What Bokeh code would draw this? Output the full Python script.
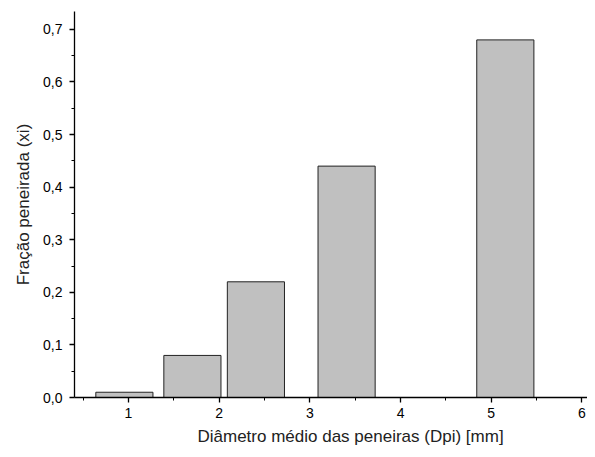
from bokeh.plotting import figure
from bokeh.models import Range1d, CustomJSTickFormatter, FixedTicker, Title
from bokeh.embed import file_html
from bokeh.resources import INLINE

# Data
bar_left = [0.64, 1.39, 2.09, 3.09, 4.84]
bar_right = [1.27, 2.02, 2.72, 3.72, 5.47]
fraction = [0.01, 0.08, 0.22, 0.44, 0.68]
x_ticks = [1, 2, 3, 4, 5, 6]
y_ticks = [0.0, 0.1, 0.2, 0.3, 0.4, 0.5, 0.6, 0.7]
x_title = "Diâmetro médio das peneiras (Dpi) [mm]"
y_title = "Fração peneirada (xi)"

p = figure(width=587, height=449, output_backend="svg", toolbar_location=None,
           x_range=Range1d(0.405, 6.061), y_range=Range1d(0, 0.734),
           min_border_left=74, min_border_right=0, min_border_top=11, min_border_bottom=52)
p.outline_line_color = None
p.xgrid.visible = False
p.ygrid.visible = False
p.background_fill_color = "white"

p.quad(left=bar_left, right=bar_right, bottom=0, top=fraction,
       fill_color="#c0c0c0", line_color="#222222", line_width=1)

font = "Liberation Sans"
p.xaxis.ticker = FixedTicker(ticks=x_ticks, minor_ticks=[0.5, 1.5, 2.5, 3.5, 4.5, 5.5])
p.yaxis.ticker = FixedTicker(ticks=y_ticks,
                             minor_ticks=[0.05, 0.15, 0.25, 0.35, 0.45, 0.55, 0.65])
p.yaxis.formatter = CustomJSTickFormatter(code="return tick.toFixed(1).replace('.', ',');")
p.xaxis.formatter = CustomJSTickFormatter(code="return tick.toFixed(0);")

for ax in (p.xaxis, p.yaxis):
    ax.axis_line_color = "black"
    ax.axis_line_width = 1.3
    ax.major_tick_line_color = "black"
    ax.minor_tick_line_color = "black"
    ax.major_tick_line_width = 1.3
    ax.minor_tick_line_width = 1
    ax.major_tick_out = 5
    ax.major_tick_in = 0
    ax.minor_tick_out = 3
    ax.minor_tick_in = 0
    ax.major_label_text_font = font
    ax.major_label_text_font_size = "14px"
    ax.major_label_text_color = "black"
    ax.axis_label_text_font = font
    ax.axis_label_text_font_size = "17px"
    ax.axis_label_text_font_style = "normal"
    ax.axis_label_text_color = "#222222"

p.yaxis.axis_label = y_title
p.xaxis.major_label_standoff = 5
p.yaxis.major_label_standoff = 7
p.yaxis.axis_label_standoff = 7

# x-axis title, offset to the right as in the (cropped) reference
p.add_layout(Title(text=x_title, align="left", offset=123, standoff=8,
                   text_font=font, text_font_size="17px", text_font_style="normal",
                   text_color="#222222"), "below")

open("out.html", "w").write(file_html(p, INLINE))
